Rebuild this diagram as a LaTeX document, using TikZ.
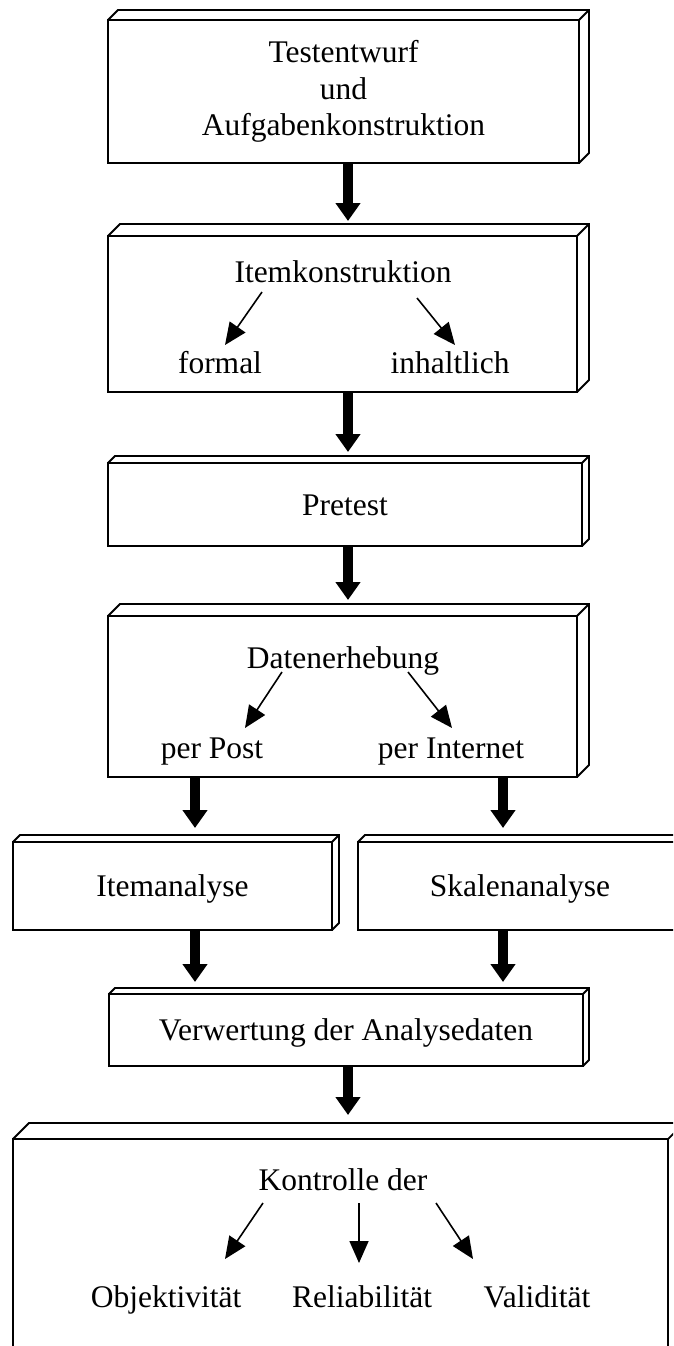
\documentclass[tikz,border=0pt]{standalone}
\usepackage{fontspec}
\setmainfont{Liberation Serif}
\usetikzlibrary{arrows.meta,calc}
\newcommand\threed[2]{%
  \draw[boxline] (#1.north west) -- ++(#2,-#2) -- ($(#1.north east)+(#2,-#2)$) -- ($(#1.south east)+(#2,-#2)$) -- (#1.south east);
  \draw[boxline] (#1.north east) -- ++(#2,-#2);
}
\begin{document}
\begin{tikzpicture}[x=1pt,y=-1pt,
  boxline/.style={line width=1.8pt, line join=miter},
  box/.style={draw, boxline, inner sep=0pt, outer sep=0pt, align=center,
    font=\fontsize{31.5pt}{36.5pt}\selectfont},
  one/.style={text height=21pt, text depth=0pt},
  lbl/.style={font=\fontsize{31.5pt}{36.5pt}\selectfont, inner sep=0pt, anchor=base},
  bigarrow/.style={line width=10pt, -{Triangle[length=18pt,width=24pt]}},
  smallarrow/.style={line width=1.6pt, -{Triangle[length=22pt,width=19pt]}}]
\useasboundingbox (0,0) rectangle (673,1346);
\clip (0,0) rectangle (673,1346);

% boxes
\node[box, minimum width=471pt, minimum height=143pt] (b1) at (343.5,91.5) {Testentwurf\\und\\Aufgabenkonstruktion};
\threed{b1}{10}
\node[box, minimum width=469pt, minimum height=156pt] (b2) at (342.5,314) {};
\threed{b2}{12}
\node[box, one, minimum width=474pt, minimum height=83pt] (b3) at (345,504.5) {Pretest};
\threed{b3}{7}
\node[box, minimum width=469pt, minimum height=161pt] (b4) at (342.5,696.5) {};
\threed{b4}{12}
\node[box, one, minimum width=319pt, minimum height=88pt] (b5) at (172.5,886) {Itemanalyse};
\threed{b5}{7}
\node[box, one, minimum width=324pt, minimum height=88pt] (b6) at (520,886) {Skalenanalyse};
\threed{b6}{7}
\node[box, one, minimum width=474pt, minimum height=72pt] (b7) at (346,1030) {Verwertung der Analysedaten};
\threed{b7}{6}
\node[box, minimum width=655pt, minimum height=222pt] (b8) at (340.5,1250) {};
\threed{b8}{16}

% labels inside boxes
\node[lbl] (t2) at (343,282) {Itemkonstruktion};
\node[lbl] (t2a) at (220,373) {formal};
\node[lbl] (t2b) at (450,373) {inhaltlich};
\node[lbl] (t4) at (343,668) {Datenerhebung};
\node[lbl] (t4a) at (212,758) {per Post};
\node[lbl] (t4b) at (451,758) {per Internet};
\node[lbl] (t8) at (343,1190) {Kontrolle der};
\node[lbl] (t8a) at (166,1307) {Objektivität};
\node[lbl] (t8b) at (362,1307) {Reliabilität};
\node[lbl] (t8c) at (537,1307) {Validität};

% small arrow end points
\coordinate (s2a) at (262,292); \coordinate (e2a) at (225,345);
\coordinate (s2b) at (417,298); \coordinate (e2b) at (455,345);
\coordinate (s4a) at (282,672); \coordinate (e4a) at (245,728);
\coordinate (s4b) at (408,672); \coordinate (e4b) at (452,728);
\coordinate (s8a) at (263,1203); \coordinate (e8a) at (225,1259);
\coordinate (s8b) at (359,1203); \coordinate (e8b) at (359,1263);
\coordinate (s8c) at (436,1203); \coordinate (e8c) at (473,1259);
\draw[smallarrow] (s2a) -- (e2a);
\draw[smallarrow] (s2b) -- (e2b);
\draw[smallarrow] (s4a) -- (e4a);
\draw[smallarrow] (s4b) -- (e4b);
\draw[smallarrow] (s8a) -- (e8a);
\draw[smallarrow] (s8b) -- (e8b);
\draw[smallarrow] (s8c) -- (e8c);

% big arrows
\coordinate (ax) at (348,0);
\coordinate (lx) at (195,0);
\coordinate (rx) at (503,0);
\draw[bigarrow, shorten >=15pt] (b1.south -| ax) -- (b2.north -| ax);
\draw[bigarrow, shorten >=11pt] (b2.south -| ax) -- (b3.north -| ax);
\draw[bigarrow, shorten >=16pt] (b3.south -| ax) -- (b4.north -| ax);
\draw[bigarrow, shorten >=14pt] (b4.south -| lx) -- (b5.north -| lx);
\draw[bigarrow, shorten >=14pt] (b4.south -| rx) -- (b6.north -| rx);
\draw[bigarrow, shorten >=12pt] (b5.south -| lx) -- (b7.north -| lx);
\draw[bigarrow, shorten >=12pt] (b6.south -| rx) -- (b7.north -| rx);
\draw[bigarrow, shorten >=24pt] (b7.south -| ax) -- (b8.north -| ax);
\end{tikzpicture}
\end{document}
